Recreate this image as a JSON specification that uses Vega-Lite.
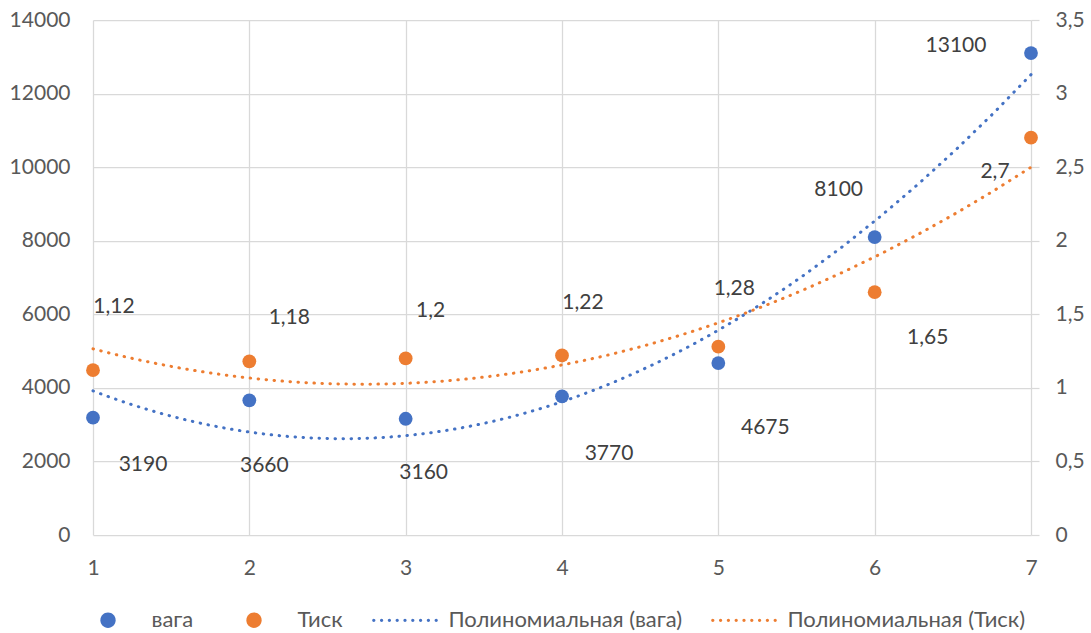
{
  "$schema": "https://vega.github.io/schema/vega-lite/v6.json",
  "width": 938,
  "height": 515,
  "autosize": "none",
  "padding": {"left": 93, "top": 20, "right": 60, "bottom": 98},
  "background": "white",
  "config": {
    "locale": {
      "number": {"decimal": ",", "thousands": "", "grouping": [3], "currency": ["", ""]}
    },
    "view": {"stroke": null},
    "font": "Lato",
    "axis": {
      "labelFont": "Lato",
      "labelFontSize": 21,
      "labelColor": "#595959",
      "labelFlush": false,
      "gridColor": "#d9d9d9",
      "gridWidth": 1.25,
      "domain": false,
      "ticks": false,
      "tickSize": 0,
      "title": null
    },
    "text": {"font": "Lato", "fontSize": 21, "fill": "#404040"}
  },
  "datasets": {
    "vaga": [
      {"n": 1, "v": 3190},
      {"n": 2, "v": 3660},
      {"n": 3, "v": 3160},
      {"n": 4, "v": 3770},
      {"n": 5, "v": 4675},
      {"n": 6, "v": 8100},
      {"n": 7, "v": 13100}
    ],
    "tysk": [
      {"n": 1, "v": 1.12},
      {"n": 2, "v": 1.18},
      {"n": 3, "v": 1.2},
      {"n": 4, "v": 1.22},
      {"n": 5, "v": 1.28},
      {"n": 6, "v": 1.65},
      {"n": 7, "v": 2.7}
    ]
  },
  "layer": [
    {
      "data": {"name": "vaga"},
      "encoding": {
        "x": {
          "field": "n",
          "type": "quantitative",
          "scale": {"domain": [1, 7], "nice": false, "zero": false},
          "axis": {"values": [1, 2, 3, 4, 5, 6, 7], "grid": true, "labelPadding": 22, "labelFlush": false, "format": "d"}
        },
        "y": {
          "field": "v",
          "type": "quantitative",
          "scale": {"domain": [0, 14000], "nice": false},
          "axis": {
            "orient": "left",
            "values": [0, 2000, 4000, 6000, 8000, 10000, 12000, 14000],
            "grid": true,
            "labelPadding": 23,
            "format": "d"
          }
        }
      },
      "layer": [
        {
          "transform": [{"regression": "v", "on": "n", "method": "poly", "order": 2, "extent": [1, 7]}],
          "mark": {"type": "line", "strokeWidth": 3, "strokeDash": [0.5, 7.5], "strokeCap": "round"},
          "encoding": {
            "color": {
              "datum": "Полиномиальная (вага)",
              "type": "nominal",
              "scale": {
                "domain": ["вага", "Тиск", "Полиномиальная (вага)", "Полиномиальная (Тиск)"],
                "range": ["#4472C4", "#ED7D31", "#4472C4", "#ED7D31"]
              },
              "legend": {
                "title": null,
                "orient": "none",
                "legendX": -17.5,
                "legendY": 567.5,
                "direction": "horizontal",
                "padding": 0,
                "symbolSize": 4225,
                "symbolStrokeWidth": 0,
                "symbolOffset": 0,
                "labelOffset": 11,
                "columnPadding": 28,
                "labelFont": "Lato",
                "labelFontSize": 22,
                "labelColor": "#595959",
                "labelLimit": 400,
                "encode": {
                  "symbols": {
                    "update": {
                      "shape": {
                        "signal": "indexof(datum.value, 'Полином') >= 0 ? 'M-1.01,0A0.05,0.05,0,1,0,-0.91,0A0.05,0.05,0,1,0,-1.01,0ZM-0.77,0A0.05,0.05,0,1,0,-0.67,0A0.05,0.05,0,1,0,-0.77,0ZM-0.53,0A0.05,0.05,0,1,0,-0.43,0A0.05,0.05,0,1,0,-0.53,0ZM-0.29,0A0.05,0.05,0,1,0,-0.19,0A0.05,0.05,0,1,0,-0.29,0ZM-0.05,0A0.05,0.05,0,1,0,0.05,0A0.05,0.05,0,1,0,-0.05,0ZM0.19,0A0.05,0.05,0,1,0,0.29,0A0.05,0.05,0,1,0,0.19,0ZM0.43,0A0.05,0.05,0,1,0,0.53,0A0.05,0.05,0,1,0,0.43,0ZM0.67,0A0.05,0.05,0,1,0,0.77,0A0.05,0.05,0,1,0,0.67,0ZM0.91,0A0.05,0.05,0,1,0,1.01,0A0.05,0.05,0,1,0,0.91,0Z' : 'M-0.235,0A0.235,0.235,0,1,0,0.235,0A0.235,0.235,0,1,0,-0.235,0Z'"
                      },
                      "fill": {"scale": "color", "field": "value"},
                      "stroke": {"value": "transparent"},
                      "strokeWidth": {"value": 0},
                      "opacity": {"value": 1}
                    }
                  }
                }
              }
            }
          }
        },
        {
          "mark": {"type": "point", "filled": true, "opacity": 1, "size": 190},
          "encoding": {"color": {"datum": "вага", "type": "nominal"}}
        },
        {
          "encoding": {"text": {"field": "v", "type": "quantitative", "format": "~g"}},
          "layer": [
            {"transform": [{"filter": "datum.n == 1"}], "mark": {"type": "text", "dx": 50, "dy": 47}},
            {"transform": [{"filter": "datum.n == 2"}], "mark": {"type": "text", "dx": 15, "dy": 66}},
            {"transform": [{"filter": "datum.n == 3"}], "mark": {"type": "text", "dx": 18, "dy": 54}},
            {"transform": [{"filter": "datum.n == 4"}], "mark": {"type": "text", "dx": 47, "dy": 58}},
            {"transform": [{"filter": "datum.n == 5"}], "mark": {"type": "text", "dx": 47, "dy": 65}},
            {"transform": [{"filter": "datum.n == 6"}], "mark": {"type": "text", "dx": -36, "dy": -47}},
            {"transform": [{"filter": "datum.n == 7"}], "mark": {"type": "text", "dx": -75, "dy": -7}}
          ]
        }
      ]
    },
    {
      "data": {"name": "tysk"},
      "encoding": {
        "x": {"field": "n", "type": "quantitative", "scale": {"domain": [1, 7], "nice": false, "zero": false}},
        "y": {
          "field": "v",
          "type": "quantitative",
          "scale": {"domain": [0, 3.5], "nice": false},
          "axis": {
            "orient": "right",
            "values": [0, 0.5, 1, 1.5, 2, 2.5, 3, 3.5],
            "grid": false,
            "ticks": true,
            "tickSize": 8,
            "tickColor": "#d9d9d9",
            "tickWidth": 1.25,
            "labelPadding": 16,
            "format": "~g"
          }
        }
      },
      "layer": [
        {
          "transform": [{"regression": "v", "on": "n", "method": "poly", "order": 2, "extent": [1, 7]}],
          "mark": {"type": "line", "strokeWidth": 3, "strokeDash": [0.5, 7.5], "strokeCap": "round"},
          "encoding": {"color": {"datum": "Полиномиальная (Тиск)", "type": "nominal"}}
        },
        {
          "mark": {"type": "point", "filled": true, "opacity": 1, "size": 190},
          "encoding": {"color": {"datum": "Тиск", "type": "nominal"}}
        },
        {
          "encoding": {"text": {"field": "v", "type": "quantitative", "format": "~g"}},
          "layer": [
            {"transform": [{"filter": "datum.n == 1"}], "mark": {"type": "text", "dx": 21, "dy": -63}},
            {"transform": [{"filter": "datum.n == 2"}], "mark": {"type": "text", "dx": 40, "dy": -43}},
            {"transform": [{"filter": "datum.n == 3"}], "mark": {"type": "text", "dx": 25, "dy": -47}},
            {"transform": [{"filter": "datum.n == 4"}], "mark": {"type": "text", "dx": 21, "dy": -52}},
            {"transform": [{"filter": "datum.n == 5"}], "mark": {"type": "text", "dx": 16, "dy": -58}},
            {"transform": [{"filter": "datum.n == 6"}], "mark": {"type": "text", "dx": 53, "dy": 46}},
            {"transform": [{"filter": "datum.n == 7"}], "mark": {"type": "text", "dx": -36, "dy": 34}}
          ]
        }
      ]
    }
  ],
  "resolve": {"scale": {"y": "independent"}}
}
